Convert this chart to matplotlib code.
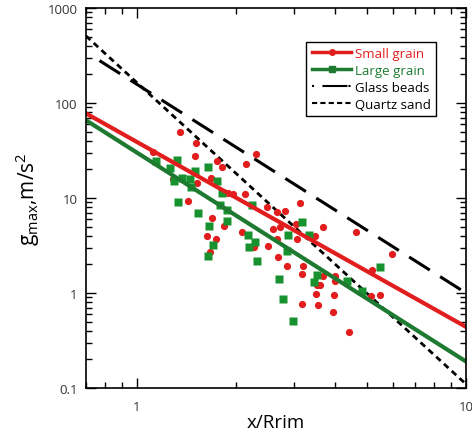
import matplotlib.pyplot as plt
from matplotlib.lines import Line2D

plt.rcParams['font.family'] = ['Open Sans', 'DejaVu Sans']
plt.rcParams['mathtext.fontset'] = 'custom'
plt.rcParams['mathtext.rm'] = 'Open Sans'
plt.rcParams['mathtext.it'] = 'Open Sans:italic'

RED = '#e21d1d'
GREEN = '#1d7a30'
GREEN_PT = '#17922f'

# small grain measurements (x/Rrim, g_max)
small_x = [1.12, 1.35, 1.51, 1.50, 1.75, 1.82, 2.30, 2.14, 1.68, 1.52,
           1.29, 1.43, 1.69, 1.84, 1.63, 1.74, 1.67, 1.89, 1.96, 2.13,
           2.09, 2.27, 2.50, 2.48, 2.66, 2.82, 3.13, 2.59, 2.72, 2.66,
           3.04, 2.68, 2.86, 3.20, 3.17, 3.06, 3.48, 3.67, 3.52, 3.50,
           3.17, 3.55, 3.94, 3.67, 4.00, 4.00, 3.60, 3.97, 4.41, 4.63,
           5.96, 5.18, 5.48, 5.14]
small_g = [30.5, 49.5, 37.9, 27.7, 24.5, 21.2, 29.0, 22.8, 16.2, 14.4,
           15.8, 9.3, 6.2, 5.1, 4.0, 3.7, 2.7, 11.3, 11.0, 11.0,
           4.4, 3.05, 3.1, 8.0, 7.1, 7.3, 8.9, 4.7, 5.0, 3.7,
           5.3, 2.39, 1.92, 1.92, 1.58, 3.7, 4.0, 5.0, 1.21, 0.98,
           0.77, 0.75, 0.63, 1.51, 1.51, 1.34, 1.21, 0.95, 0.39, 4.4,
           2.57, 1.75, 0.95, 0.93]

# large grain measurements
large_x = [1.14, 1.32, 1.26, 1.64, 1.50, 1.30, 1.37, 1.45, 1.46, 1.75,
           1.33, 1.53, 1.82, 1.79, 1.88, 1.88, 1.66, 1.70, 1.64, 2.24,
           2.17, 2.28, 2.19, 2.32, 2.70, 2.88, 2.86, 3.17, 3.33, 3.52,
           3.45, 2.78, 2.98, 5.48, 4.35, 4.83]
large_g = [24.5, 25.1, 20.7, 21.2, 19.2, 15.1, 16.2, 15.8, 13.1, 15.1,
           9.1, 6.95, 11.3, 8.4, 7.5, 5.7, 5.1, 3.2, 2.45, 8.4,
           4.1, 3.44, 3.05, 2.17, 1.40, 4.1, 2.77, 5.6, 4.1, 1.55,
           1.31, 0.86, 0.51, 1.88, 1.34, 1.05]

# power-law fits and reference curves (end points)
fit_x = [0.7, 10]
small_fit = [78, 0.44]
large_fit = [66, 0.19]
glass_x = [0.77, 10]
glass_g = [280, 1.0]
quartz_x = [0.7, 10]
quartz_g = [510, 0.11]

fig = plt.figure(figsize=(4.72, 4.35), dpi=100)
ax = fig.add_axes([0.182, 0.106, 0.805, 0.873])

ax.plot(quartz_x, quartz_g, color='black', lw=2.0, dashes=(2.2, 1.6))
ax.plot(glass_x, glass_g, color='black', lw=2.2, dashes=(8, 4))

ax.plot(small_x, small_g, 'o', color=RED, ms=5.2, mec='none')
ax.plot(large_x, large_g, 's', color=GREEN_PT, ms=5.2, mec='none')
ax.plot(fit_x, small_fit, color=RED, lw=3)
ax.plot(fit_x, large_fit, color=GREEN, lw=3)

ax.set_xscale('log')
ax.set_yscale('log')
ax.set_xlim(0.7, 10)
ax.set_ylim(0.1, 1000)
ax.set_xticks([1, 10])
ax.set_xticklabels(['1', '10'])
ax.set_yticks([0.1, 1, 10, 100, 1000])
ax.set_yticklabels(['0.1', '1', '10', '100', '1000'])
ax.tick_params(which='both', direction='in', top=True, right=True,
               labelsize=9.5, labelcolor='#333333')
ax.tick_params(which='major', length=7, width=1)
ax.tick_params(which='minor', length=4, width=1)
ax.tick_params(axis='x', which='both', pad=9)
ax.tick_params(axis='y', which='both', pad=6)
for spine in ax.spines.values():
    spine.set_linewidth(1.2)

ax.set_xlabel('x/Rrim', fontsize=13.5, labelpad=0)
ax.set_ylabel(r'g$_{\mathrm{max}}$,m/s$^2$', fontsize=15, labelpad=4)

handles = [
    Line2D([], [], color=RED, lw=2.5, marker='o', ms=4),
    Line2D([], [], color=GREEN, lw=2.5, marker='s', ms=4),
    Line2D([], [], color='black', lw=1.5, dashes=(1, 4, 12, 0.5)),
    Line2D([], [], color='black', lw=1.5, dashes=(2.5, 1.5)),
]
labels = ['Small grain', 'Large grain', 'Glass beads', 'Quartz sand']
leg = ax.legend(handles, labels, loc='upper right',
                bbox_to_anchor=(0.9386, 0.917),
                bbox_transform=fig.transFigure, fontsize=9.5,
                handlelength=3.0, handletextpad=0.3, labelspacing=0.3,
                borderpad=0.4, fancybox=False, framealpha=1, numpoints=1)
leg.get_frame().set_edgecolor('black')
leg.get_frame().set_linewidth(1.0)
for text, col in zip(leg.get_texts(), [RED, GREEN, 'black', 'black']):
    text.set_color(col)

fig.savefig('out.png', dpi=100)
